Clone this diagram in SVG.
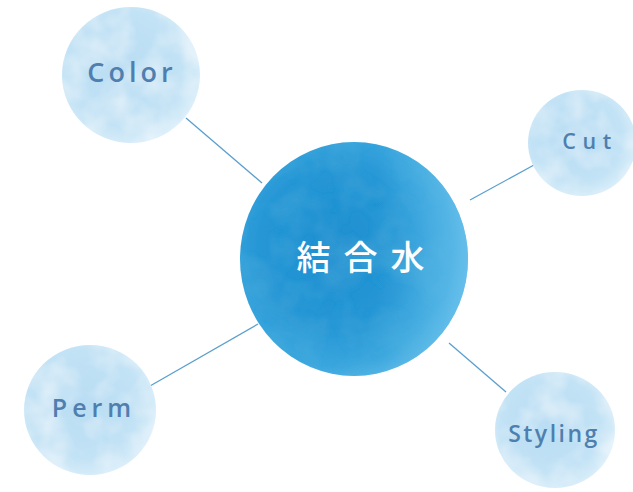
<svg xmlns="http://www.w3.org/2000/svg" width="633" height="492" viewBox="0 0 633 492">
<defs>
<radialGradient id="gMain" cx="0.42" cy="0.45" r="0.6">
<stop offset="0" stop-color="#1f8fd0"/>
<stop offset="0.55" stop-color="#2696d5"/>
<stop offset="0.85" stop-color="#3aa6de"/>
<stop offset="1" stop-color="#5cb8e8"/>
</radialGradient>
<linearGradient id="gSide" x1="0" y1="0" x2="1" y2="0">
<stop offset="0.6" stop-color="#5ebde9" stop-opacity="0"/>
<stop offset="1" stop-color="#6cc2ec" stop-opacity="0.7"/>
</linearGradient>
<radialGradient id="gSat" cx="0.45" cy="0.45" r="0.6">
<stop offset="0" stop-color="#b9ddf3"/>
<stop offset="0.7" stop-color="#c2e2f5"/>
<stop offset="0.92" stop-color="#d6ecf9"/>
<stop offset="1" stop-color="#e6f4fc"/>
</radialGradient>
<filter id="wc" x="-10%" y="-10%" width="120%" height="120%">
<feTurbulence type="fractalNoise" baseFrequency="0.03" numOctaves="3" seed="4" result="n"/>
<feColorMatrix in="n" type="matrix" values="0 0 0 0 1  0 0 0 0 1  0 0 0 0 1  0 0 0 0.9 -0.35" result="w"/>
<feComposite in="w" in2="SourceGraphic" operator="in" result="wc"/>
<feMerge><feMergeNode in="SourceGraphic"/><feMergeNode in="wc"/></feMerge>
</filter>
<filter id="wcd" x="-10%" y="-10%" width="120%" height="120%">
<feTurbulence type="fractalNoise" baseFrequency="0.025" numOctaves="3" seed="9" result="n"/>
<feColorMatrix in="n" type="matrix" values="0 0 0 0 0.08  0 0 0 0 0.45  0 0 0 0 0.72  0 0 0 0.8 -0.3" result="w"/>
<feComposite in="w" in2="SourceGraphic" operator="in" result="wc"/>
<feMerge><feMergeNode in="SourceGraphic"/><feMergeNode in="wc"/></feMerge>
</filter>
<style>
.sat{fill:url(#gSat);filter:url(#wc)}
.lbl{font-family:"Open Sans","Noto Sans",sans-serif;font-weight:600;fill:#4f7fae;text-anchor:middle}
.conn line{stroke:#5a9fcf;stroke-width:1.3}
.main{font-family:"Noto Sans CJK JP","Noto Sans CJK SC",sans-serif;font-size:34px;font-weight:500;fill:#ffffff;text-anchor:middle;letter-spacing:13px}
</style>
</defs>
<rect width="633" height="492" fill="#ffffff"/>
<g class="conn">
<line x1="186" y1="118" x2="262" y2="183"/>
<line x1="470" y1="200" x2="534" y2="165"/>
<line x1="150" y1="386" x2="258" y2="324"/>
<line x1="449" y1="343" x2="506" y2="392"/>
</g>
<g id="center">
<ellipse cx="354" cy="259" rx="114" ry="117" fill="url(#gMain)" filter="url(#wcd)"/>
<ellipse cx="354" cy="259" rx="114" ry="117" fill="url(#gSide)"/>
<text class="main" x="367" y="270">結合水</text>
</g>
<g id="color">
<ellipse class="sat" cx="131" cy="75" rx="69" ry="68"/>
<text class="lbl" x="132" y="82" font-size="27" letter-spacing="4">Color</text>
</g>
<g id="cut">
<ellipse class="sat" cx="582" cy="143" rx="54" ry="53"/>
<text class="lbl" x="590" y="148.5" font-size="21.5" letter-spacing="6.5">Cut</text>
</g>
<g id="perm">
<ellipse class="sat" cx="90" cy="410" rx="66" ry="65"/>
<text class="lbl" x="94" y="416.5" font-size="25" letter-spacing="5">Perm</text>
</g>
<g id="styling">
<ellipse class="sat" cx="555" cy="430" rx="60" ry="58"/>
<text class="lbl" x="554" y="442" font-size="23" letter-spacing="2.5">Styling</text>
</g>
</svg>
